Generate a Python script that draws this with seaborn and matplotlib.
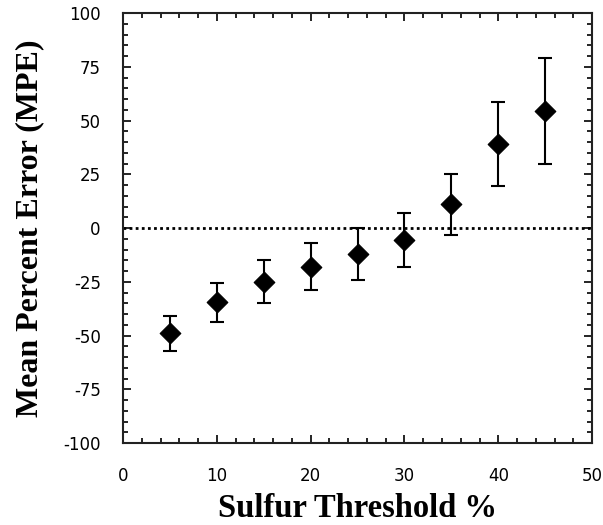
import matplotlib
matplotlib.use("Agg")
import matplotlib.pyplot as plt
import numpy as np
import pandas as pd
import seaborn as sns
from matplotlib.ticker import MultipleLocator

# -----------------------------
# Dados
# -----------------------------
limiar = [5, 10, 15, 20, 25, 30, 35, 40, 45]
mpe = [-49, -34.5, -25, -18, -12, -5.5, 11, 39, 54.5]
erro = [8, 9, 10, 11, 12, 12.5, 14, 19.5, 24.5]

df = pd.DataFrame({"limiar": limiar, "mpe": mpe, "erro": erro})

sns.set_style("ticks")
plt.rcParams["axes.unicode_minus"] = False

fig = plt.figure(figsize=(6.03, 5.25), dpi=100)
ax = fig.add_axes([0.204, 0.156, 0.778, 0.819])

# linha de referência em zero
ax.axhline(0, color="black", linestyle=(0, (1, 1.2)), linewidth=2, zorder=1)

ax.errorbar(df["limiar"], df["mpe"], yerr=df["erro"], fmt="none",
            ecolor="black", elinewidth=1.5, capsize=4.8, capthick=1.5, zorder=2)
sns.scatterplot(data=df, x="limiar", y="mpe", marker="D", s=110,
                color="black", edgecolor="black", ax=ax, zorder=3, legend=False)

ax.set_xlim(0, 50)
ax.set_ylim(-100, 100)
ax.xaxis.set_major_locator(MultipleLocator(10))
ax.xaxis.set_minor_locator(MultipleLocator(2))
ax.yaxis.set_major_locator(MultipleLocator(25))
ax.yaxis.set_minor_locator(MultipleLocator(5))

ax.tick_params(which="both", direction="in", top=True, right=True,
               colors="black", labelsize=12, width=1.2)
ax.tick_params(which="major", length=6)
ax.tick_params(axis="x", which="major", pad=17)
ax.tick_params(axis="y", which="major", pad=16)
ax.tick_params(which="minor", length=3.5)
for s in ax.spines.values():
    s.set_linewidth(1.5)
    s.set_color("#222222")

ax.set_xlabel("Sulfur Threshold %", fontfamily="Liberation Serif",
              fontweight="bold", fontsize=23.5, labelpad=6, color="black")
ax.set_ylabel("Mean Percent Error (MPE)", fontfamily="Liberation Serif",
              fontweight="bold", fontsize=23, labelpad=14, color="black")

fig.savefig("out.png", dpi=100)
